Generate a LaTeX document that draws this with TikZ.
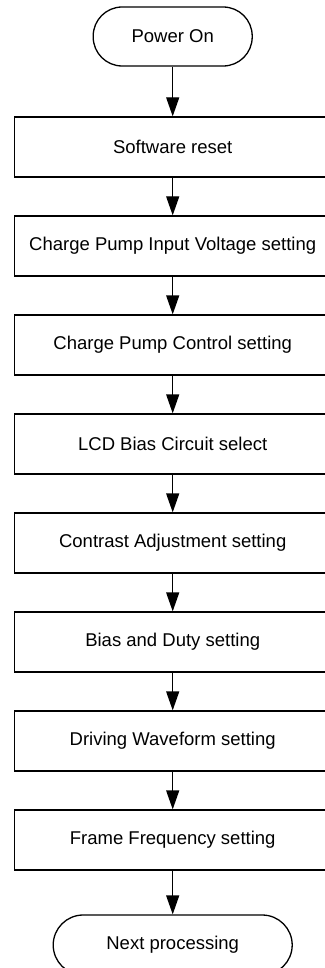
\documentclass[tikz,border=0pt]{standalone}
\usepackage{fontspec}
\setmainfont{Liberation Sans}
\usetikzlibrary{arrows.meta}
\tikzset{
  stepbox/.style={draw, line width=1.3pt, minimum width=317pt, minimum height=60pt, inner sep=0pt, font=\fontsize{18.5}{20}\selectfont},
  termbox/.style={draw, line width=1.3pt, rounded corners=29pt, minimum height=59pt, inner sep=0pt, font=\fontsize{18.5}{20}\selectfont},
  flow/.style={line width=1.3pt, -{Triangle[length=19pt, width=13pt]}}
}
\begin{document}
\begin{tikzpicture}[x=1pt, y=-1pt]
  \useasboundingbox (0,0) rectangle (324,968);
  % Start
  \node [termbox, minimum width=159pt] (power) at (172.7,36.5) {Power On};
  % Steps
  \node [stepbox] (reset) at (172.7,147) {Software reset};
  \node [stepbox] (cpvolt) at (172.7,246) {Charge Pump Input Voltage setting};
  \node [stepbox] (cpctrl) at (172.7,345) {Charge Pump Control setting};
  \node [stepbox] (bias) at (172.7,444) {LCD Bias Circuit select};
  \node [stepbox] (contrast) at (172.7,543) {Contrast Adjustment setting};
  \node [stepbox] (duty) at (172.7,642) {Bias and Duty setting};
  \node [stepbox] (wave) at (172.7,741) {Driving Waveform setting};
  \node [stepbox] (frame) at (172.7,840) {Frame Frequency setting};
  % End
  \node [termbox, minimum width=239pt, minimum height=60pt, rounded corners=30pt] (next) at (172.7,945) {Next processing};
  % Arrows
  \draw [flow] (power) -- (reset);
  \draw [flow] (reset) -- (cpvolt);
  \draw [flow] (cpvolt) -- (cpctrl);
  \draw [flow] (cpctrl) -- (bias);
  \draw [flow] (bias) -- (contrast);
  \draw [flow] (contrast) -- (duty);
  \draw [flow] (duty) -- (wave);
  \draw [flow] (wave) -- (frame);
  \draw [flow] (frame) -- (next);
\end{tikzpicture}
\end{document}
